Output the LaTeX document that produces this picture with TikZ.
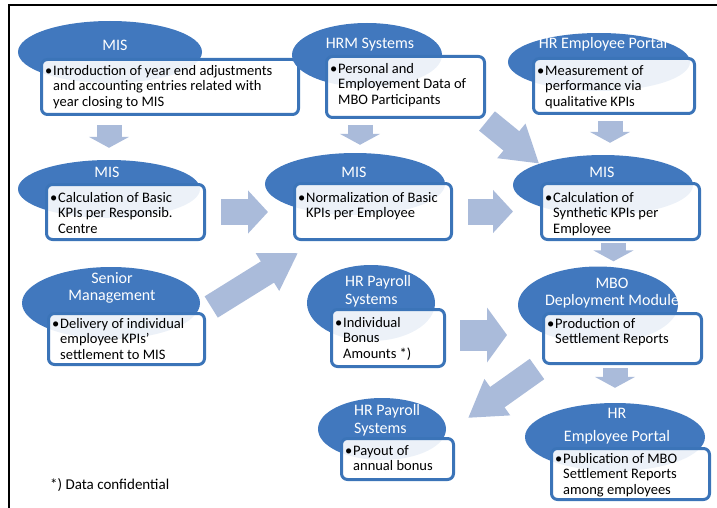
\documentclass[tikz,border=0pt]{standalone}
\usepackage{fontspec}
\setmainfont{Carlito}
\usepackage{tikz}
\usetikzlibrary{shapes.geometric,arrows.meta,backgrounds}

\definecolor{sysblue}{HTML}{4178BE}
\definecolor{lineblue}{HTML}{3B74B8}
\definecolor{flowblue}{HTML}{AABBDA}

\tikzset{
  sys/.style={ellipse, fill=sysblue, inner sep=0pt},
  systitle/.style={text=white, align=center, inner sep=0pt, font=\fontsize{16}{17.5}\selectfont},
  task/.style={draw=lineblue, line width=3pt, rounded corners=6pt, fill=white, fill opacity=0.9, draw opacity=1, anchor=north west, inner sep=0pt},
  tasktext/.style={anchor=north west, align=left, inner sep=0pt, font=\fontsize{14.5}{15.5}\selectfont},
  flow/.style n args={3}{draw=flowblue, line width=#1, -{Triangle[length=#2,width=#3]}},
}

\newcommand{\bpt}{\rule{0pt}{11pt}\makebox[8pt][l]{\textbullet}}
\newcommand{\ind}{\hspace*{8pt}}

\begin{document}
\begin{tikzpicture}[x=1pt,y=-1pt]
      \useasboundingbox (0,0) rectangle (717,508);
      \draw[line width=2pt] (9,508) -- (9,5) -- (717,5);

      \node[sys, minimum width=184pt, minimum height=62pt] (mis1) at (110,52) {};
      \node[systitle] (mis1t) at (115,45) {MIS};
      \node[task, minimum width=257pt, minimum height=55pt] (mis1box) at (40,58) {};
      \node[tasktext] (mis1txt) at (45,64) {\bpt Introduction of year end adjustments\\\ind and accounting entries related with\\\ind year closing to MIS};

      \node[sys, minimum width=150pt, minimum height=64pt] (hrm) at (367,55) {};
      \node[systitle] (hrmt) at (370,45) {HRM Systems};
      \node[task, minimum width=158pt, minimum height=61pt] (hrmbox) at (325,55) {};
      \node[tasktext] (hrmtxt) at (330,62) {\bpt Personal and\\\ind Employement Data of\\\ind MBO Participants};

      \node[sys, minimum width=182pt, minimum height=58pt] (portal1) at (599,62) {};
      \node[systitle] (portal1t) at (603,44) {HR Employee Portal};
      \node[task, minimum width=161pt, minimum height=55pt] (portal1box) at (532,57) {};
      \node[tasktext] (portal1txt) at (537,64) {\bpt Measurement of\\\ind performance via\\\ind qualitative KPIs};

      \node[sys, minimum width=182pt, minimum height=58pt] (misl) at (109,189) {};
      \node[systitle] (mislt) at (107,172) {MIS};
      \node[task, minimum width=158pt, minimum height=55pt] (mislbox) at (45,183) {};
      \node[tasktext] (misltxt) at (50,191) {\bpt Calculation of Basic\\\ind KPIs per Responsib.\\\ind Centre};

      \node[sys, minimum width=180pt, minimum height=62pt] (mism) at (355,184) {};
      \node[systitle] (mismt) at (354,172) {MIS};
      \node[task, minimum width=157pt, minimum height=56pt] (mismbox) at (293,182) {};
      \node[tasktext] (mismtxt) at (298,191) {\bpt Normalization of Basic\\\ind KPIs per Employee};

      \node[sys, minimum width=180pt, minimum height=60pt] (misr) at (603,185) {};
      \node[systitle] (misrt) at (602,172) {MIS};
      \node[task, minimum width=158pt, minimum height=56pt] (misrbox) at (540,182) {};
      \node[tasktext] (misrtxt) at (545,191) {\bpt Calculation of\\\ind Synthetic KPIs per\\\ind Employee};

      \node[sys, minimum width=178pt, minimum height=72pt] (senior) at (111,303) {};
      \node[systitle] (seniort) at (112,288) {Senior\\Management};
      \node[task, minimum width=156pt, minimum height=51pt] (seniorbox) at (47,312) {};
      \node[tasktext] (seniortxt) at (52,317) {\bpt Delivery of individual\\\ind employee KPIs'\\\ind settlement to MIS};

      \node[sys, minimum width=128pt, minimum height=76pt] (pay1) at (371,303) {};
      \node[systitle, anchor=west, align=left] (pay1t) at (345,291) {HR Payroll\\Systems};
      \node[task, minimum width=113pt, minimum height=57pt] (pay1box) at (330,308) {};
      \node[tasktext] (pay1txt) at (335,316) {\bpt Individual\\\ind Bonus\\\ind Amounts *)};

      \node[sys, minimum width=160pt, minimum height=77pt] (mbo) at (598,305) {};
      \node[systitle] (mbot) at (612,293) {MBO\\Deployment Module};
      \node[task, minimum width=158pt, minimum height=50pt] (mbobox) at (542,312) {};
      \node[tasktext] (mbotxt) at (547,317) {\bpt Production of\\\ind Settlement Reports};

      \node[sys, minimum width=128pt, minimum height=62pt] (pay2) at (382,429) {};
      \node[systitle, anchor=west, align=left] (pay2t) at (354,420) {HR Payroll\\Systems};
      \node[task, minimum width=112pt, minimum height=41pt] (pay2box) at (340,437) {};
      \node[tasktext] (pay2txt) at (345,444) {\bpt Payout of\\\ind annual bonus};

      \node[sys, minimum width=180pt, minimum height=68pt] (portal2) at (615,437) {};
      \node[systitle] (portal2t) at (617,426) {HR\\[5pt]Employee Portal};
      \node[task, minimum width=158pt, minimum height=51pt] (portal2box) at (550,447) {};
      \node[tasktext] (portal2txt) at (555,452) {\bpt Publication of MBO\\\ind Settlement Reports\\\ind among employees};

      \node[anchor=west, inner sep=0pt, font=\fontsize{15}{16}\selectfont] (note) at (50,485) {*) Data confidential};

      \begin{scope}[on background layer]
      \draw[flow={25pt}{11pt}{40pt}, shorten <=9pt, shorten >=12pt] (mis1box.south -| misl.north) -- (misl.north);
      \draw[flow={25pt}{11pt}{40pt}, shorten <=6pt, shorten >=8pt] ([xshift=5pt]hrmbox.south -| mism.north) -- ([xshift=5pt]mism.north);
      \draw[flow={25pt}{11pt}{40pt}, shorten <=6pt, shorten >=12pt] ([xshift=7pt]portal1box.south -| misr.north) -- ([xshift=7pt]misr.north);
      \draw[flow={25pt}{11pt}{40pt}, shorten <=2pt, shorten >=5pt] ([xshift=-7pt]misrbox.south) -- ([xshift=-7pt]misrbox.south |- mbo.north);
      \draw[flow={25pt}{11pt}{40pt}, shorten <=3pt, shorten >=15pt] (mbobox.south -| portal2.north) -- (portal2.north);
      \draw[flow={26pt}{20pt}{42pt}, shorten <=15pt, shorten >=25pt] (mislbox.east) -- (mislbox.east -| mismbox.west);
      \draw[flow={26pt}{20pt}{42pt}, shorten <=15pt, shorten >=27pt] (mismbox.east) -- (mismbox.east -| misrbox.west);
      \draw[flow={31pt}{20pt}{54pt}, shorten <=14pt, shorten >=35pt] ([yshift=3pt]pay1box.east) -- ([yshift=3pt]pay1box.east -| mbobox.west);
      \draw[flow={25pt}{36pt}{42pt}] ([shift={(1,2)}]hrmbox.south east) -- (misr.north west);
      \draw[flow={25pt}{36pt}{42pt}] ([shift={(11,4)}]senior.east) -- ([shift={(5,12)}]mismbox.south west);
      \draw[flow={25pt}{36pt}{42pt}] ([shift={(-5,4)}]mbobox.south west) -- ([shift={(13,-19)}]pay2box.north east);
      \end{scope}
    \end{tikzpicture}
\end{document}
